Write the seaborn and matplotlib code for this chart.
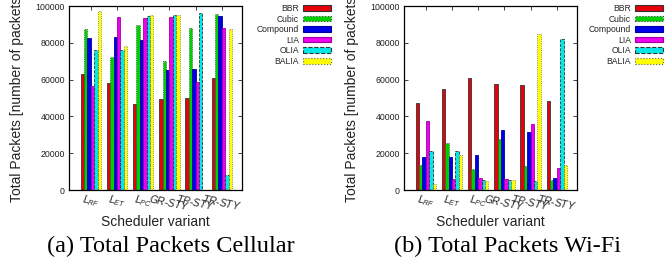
import matplotlib
matplotlib.use("Agg")
import matplotlib.pyplot as plt
import seaborn as sns
import pandas as pd
from matplotlib.patches import Patch

sns.set_theme(style="white")
plt.rcParams['font.family'] = ['Liberation Sans', 'DejaVu Sans']
plt.rcParams['mathtext.fontset'] = 'custom'
plt.rcParams['mathtext.it'] = 'Liberation Sans:italic'
plt.rcParams['mathtext.rm'] = 'Liberation Sans'

schedulers = ['LRF', 'LET', 'LPC', 'GR-STY', 'TP-STY', 'TR-STY']
tick_labels = [r'$L_{RF}$', r'$L_{ET}$', r'$L_{PC}$', r'$GR$-$STY$', r'$TP$-$STY$', r'$TR$-$STY$']
algos = ['BBR', 'Cubic', 'Compound', 'LIA', 'OLIA', 'BALIA']

cell_bbr      = [63000, 58000, 46500, 49500, 50000, 60700]
cell_cubic    = [87500, 72100, 89700, 70100, 88000, 95700]
cell_compound = [82600, 83200, 81500, 65200, 65800, 94600]
cell_lia      = [56500, 94000, 93500, 94000, 58700, 88000]
cell_olia     = [76000, 76000, 94500, 95100, 96200, 8000]
cell_balia    = [97300, 78300, 95100, 95100, 0, 87500]

wifi_bbr      = [47100, 54700, 60900, 57400, 56900, 48200]
wifi_cubic    = [13400, 25400, 11400, 27500, 12900, 5300]
wifi_compound = [17900, 17800, 19000, 32600, 31500, 6500]
wifi_lia      = [37300, 5800, 6500, 6000, 35900, 12000]
wifi_olia     = [21000, 21000, 5300, 5400, 4700, 81900]
wifi_balia    = [3300, 19000, 4900, 5400, 84800, 13600]

colors = ['#e8000b', '#00d000', '#0000e8', '#f000f0', '#00e8e8', '#ffff00']
edge_styles = ['-', ':', '-', '-', '--', ':']
edge_colors = ['#333333', '#444444', '#0000a0', '#a000a0', '#333333', '#666666']


def make_df(series):
    rows = []
    for a, vals in zip(algos, series):
        for s, v in zip(schedulers, vals):
            rows.append({'Scheduler': s, 'Algo': a, 'Packets': v})
    return pd.DataFrame(rows)


df_cell = make_df([cell_bbr, cell_cubic, cell_compound, cell_lia, cell_olia, cell_balia])
df_wifi = make_df([wifi_bbr, wifi_cubic, wifi_compound, wifi_lia, wifi_olia, wifi_balia])

fig = plt.figure(figsize=(6.71, 2.66), dpi=100)
ax1 = fig.add_axes([69 / 671, 1 - 190 / 266, 173 / 671, 184 / 266])
ax2 = fig.add_axes([404 / 671, 1 - 190 / 266, 173 / 671, 184 / 266])

for ax, df, legx in [(ax1, df_cell, 331 / 671), (ax2, df_wifi, 663 / 671)]:
    sns.barplot(data=df, x='Scheduler', y='Packets', hue='Algo', order=schedulers,
                hue_order=algos, palette=colors, width=0.78, ax=ax, legend=False,
                saturation=1, errorbar=None)
    for i, cont in enumerate(ax.containers):
        for p in cont.patches:
            p.set_edgecolor(edge_colors[i])
            p.set_linewidth(0.6)
            p.set_linestyle(edge_styles[i])
    ax.set_xlim(-0.83, 5.77)
    ax.set_ylim(0, 100000)
    ax.set_yticks([0, 20000, 40000, 60000, 80000, 100000])
    ax.set_yticklabels(['0', '20000', '40000', '60000', '80000', '100000'], fontsize=6.3, color='#222222')
    ax.set_xticks(range(len(schedulers)))
    ax.set_xticklabels(tick_labels, fontsize=7.4, rotation=-12, ha='center', color='#222222')
    ax.tick_params(axis='both', direction='in', length=3, width=0.6, top=True, right=True,
                   bottom=True, left=True, pad=3, colors='#222222')
    ax.tick_params(axis='x', pad=1.5)
    for sp in ax.spines.values():
        sp.set_visible(True)
        sp.set_color('black')
        sp.set_linewidth(0.9)
    ax.set_xlabel('Scheduler variant', fontsize=10, labelpad=2, color='#222222')
    ax.set_ylabel('Total Packets [number of packets]', fontsize=10, labelpad=8, color='#222222')
    handles = [Patch(facecolor=colors[i], edgecolor=edge_colors[i], linestyle=edge_styles[i],
                     linewidth=0.8) for i in range(len(algos))]
    fig.legend(handles, algos, loc='upper right', bbox_to_anchor=(legx, 1 - 4 / 266),
               bbox_transform=fig.transFigure, frameon=False, fontsize=6.2,
               markerfirst=False, handlelength=3.2, handleheight=0.65, handletextpad=0.5,
               labelspacing=0.18, borderaxespad=0, borderpad=0)

fig.text(171 / 671, 1 - 246 / 266, '(a) Total Packets Cellular', fontsize=17.5,
         family='Liberation Serif', ha='center', va='center', color='black')
fig.text(507 / 671, 1 - 246 / 266, '(b) Total Packets Wi-Fi', fontsize=17.5,
         family='Liberation Serif', ha='center', va='center', color='black')

fig.savefig('out.png', dpi=100)
